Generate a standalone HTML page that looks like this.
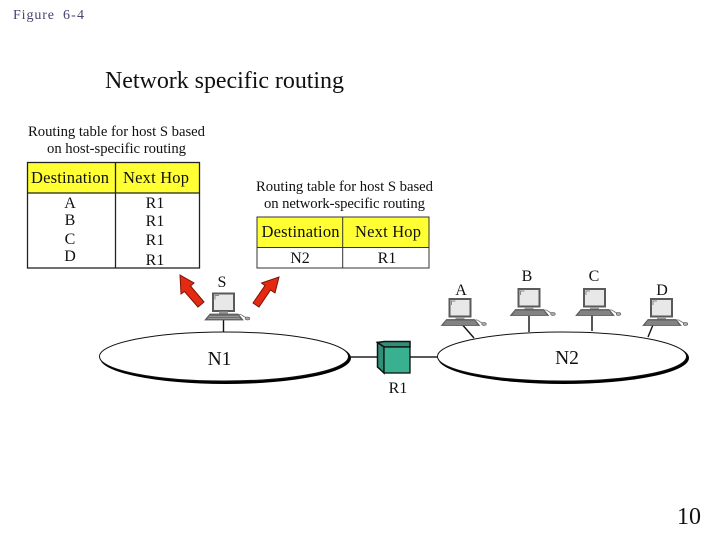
<!DOCTYPE html>
<html><head><meta charset="utf-8"><style>
html,body{margin:0;padding:0;background:#fff;width:720px;height:540px;overflow:hidden}
svg{display:block;font-family:"Liberation Serif",serif}
text{fill:#111}
</style></head><body>
<svg width="720" height="540" viewBox="0 0 720 540" xmlns="http://www.w3.org/2000/svg">
<defs>
<g id="pc">
  <rect x="0" y="0" width="21" height="17.500" fill="#e8e8e8" stroke="#5a5a5a" stroke-width="2"/>
  <path d="M2 6V2H6" fill="none" stroke="#888" stroke-width="1"/>
  <rect x="6" y="18" width="9" height="3" fill="#999"/>
  <path d="M-3 20.500H25L30 26.500H-8Z" fill="#6f6f6f" stroke="#555" stroke-width=".8"/>
  <path d="M-4 23H26M-5 25H27" stroke="#a5a5a5" stroke-width=".7"/>
  <path d="M26 21C29 20 30 24 34 24" fill="none" stroke="#666" stroke-width=".8"/>
  <ellipse cx="34.500" cy="25" rx="2.300" ry="1.400" fill="#aaa" stroke="#555" stroke-width=".6"/>
</g>
</defs>

<text x="13" y="19" font-size="14" textLength="41" style="fill:#44446e">Figure</text>
<text x="63" y="19" font-size="14" textLength="21" style="fill:#44446e">6-4</text>
<text x="105" y="88" font-size="24" textLength="239">Network specific routing</text>
<text x="677" y="524" font-size="24" textLength="24">10</text>

<!-- Table 1 -->
<text x="28" y="136" font-size="14.700" textLength="177">Routing table for host S based</text>
<text x="47" y="153" font-size="14.700" textLength="139">on host-specific routing</text>
<rect x="27.500" y="162.500" width="172" height="31" fill="#ffff33"/>
<rect x="27.500" y="162.500" width="172" height="105.500" fill="none" stroke="#222" stroke-width="1.300"/>
<path d="M27.500 193H199.500M115.500 162.500V268" stroke="#222" stroke-width="1.300"/>
<text x="31" y="183" font-size="16.500" textLength="78">Destination</text>
<text x="123" y="183" font-size="16.500" textLength="66">Next Hop</text>
<g font-size="16" text-anchor="middle">
<text x="70" y="208">A</text><text x="70" y="225">B</text><text x="70" y="244">C</text><text x="70" y="261">D</text>
<text x="155" y="208">R1</text><text x="155" y="226">R1</text><text x="155" y="245">R1</text><text x="155" y="265">R1</text>
</g>

<!-- Table 2 -->
<text x="256" y="191" font-size="14.700" textLength="177">Routing table for host S based</text>
<text x="264" y="208" font-size="14.700" textLength="161">on network-specific routing</text>
<rect x="257" y="217" width="172" height="30" fill="#ffff33"/>
<rect x="257" y="217" width="172" height="51" fill="none" stroke="#333" stroke-width="1"/>
<path d="M257 247.500H429M342.700 217V268" stroke="#333" stroke-width="1"/>
<text x="261.500" y="237" font-size="16.500" textLength="78">Destination</text>
<text x="355" y="237" font-size="16.500" textLength="66">Next Hop</text>
<text x="300" y="263" font-size="16" text-anchor="middle">N2</text>
<text x="387" y="263" font-size="16" text-anchor="middle">R1</text>

<!-- Arrows -->
<path d="M180 275L194 283L190.500 286L204 302L198 307L184.500 291.500L181 294Z" fill="#e52a12" stroke="#7a1408" stroke-width="1"/>
<path d="M279 277L275 293L270.500 290L259 307L253 303L265 285.500L261.500 283Z" fill="#e52a12" stroke="#7a1408" stroke-width="1"/>

<!-- Ellipses -->
<ellipse cx="225.500" cy="358" rx="125.500" ry="26" fill="#000"/>
<ellipse cx="224" cy="356.500" rx="124.500" ry="24.500" fill="#fff" stroke="#111" stroke-width="1"/>
<ellipse cx="563.500" cy="358" rx="125.500" ry="26" fill="#000"/>
<ellipse cx="562" cy="356.500" rx="124.500" ry="24.500" fill="#fff" stroke="#111" stroke-width="1"/>
<text x="219.500" y="365" font-size="19.500" text-anchor="middle">N1</text>
<text x="567" y="364" font-size="19.500" text-anchor="middle">N2</text>

<!-- Link lines -->
<path d="M350 357H378M410 357H438" stroke="#222" stroke-width="1.400"/>
<path d="M223.500 320V332M529 316V332M592 312V331" stroke="#111" stroke-width="1.400" fill="none"/>
<path d="M460 322L474 338M655 320L648 337" stroke="#111" stroke-width="1.400"/>

<!-- Router -->
<path d="M384 347L377.500 342.500L384 341.500H410V347Z" fill="#2f8f77" stroke="#111" stroke-width="1.500"/>
<path d="M377.500 342.500V367L384 373V347Z" fill="#2f8f77" stroke="#111" stroke-width="1.500"/>
<rect x="384" y="347" width="26" height="26" fill="#39b08f" stroke="#111" stroke-width="1.300"/>
<text x="398" y="393" font-size="16" text-anchor="middle">R1</text>

<!-- Computers -->
<use href="#pc" x="213" y="293.500"/>
<use href="#pc" x="449.500" y="299"/>
<use href="#pc" x="518.500" y="289"/>
<use href="#pc" x="584" y="289"/>
<use href="#pc" x="651" y="299"/>

<g font-size="16" text-anchor="middle">
<text x="222" y="287">S</text>
<text x="461" y="295">A</text>
<text x="527" y="281">B</text>
<text x="594" y="281">C</text>
<text x="662" y="295">D</text>
</g>
</svg>
</body></html>
